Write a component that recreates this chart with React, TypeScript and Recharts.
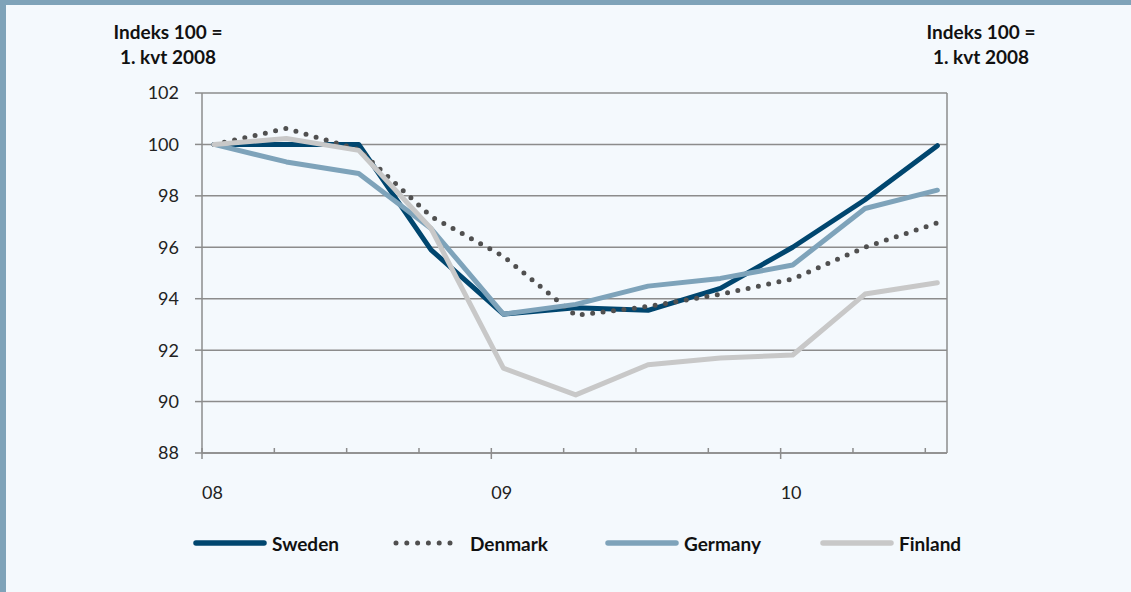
import { LineChart, Line, XAxis, YAxis, CartesianGrid, Legend } from "recharts";

// kvartaler 1. kvt 2008 - 3. kvt 2010
const quarters = ["2008K1", "2008K2", "2008K3", "2008K4", "2009K1", "2009K2", "2009K3", "2009K4", "2010K1", "2010K2", "2010K3"];

const sweden = [100, 100.0, 100.0, 95.9, 93.4, 93.65, 93.55, 94.4, 96.0, 97.85, 99.95];
const denmark = [100, 100.62, 99.8, 97.2, 95.65, 93.35, 93.7, 94.17, 94.77, 96.0, 96.95];
const germany = [100, 99.32, 98.87, 96.73, 93.4, 93.78, 94.49, 94.79, 95.31, 97.51, 98.22];
const finland = [100, 100.23, 99.77, 96.73, 91.3, 90.26, 91.43, 91.69, 91.81, 94.18, 94.62];

const yTicks = [88, 90, 92, 94, 96, 98, 100, 102];
const monthTicks = [0, 3, 6, 9, 12, 15, 18, 21, 24, 27, 30];
const yearLabels: Record<number, string> = { 0: "08", 12: "09", 24: "10" };

const series = [
  { key: "sweden", name: "Sweden", color: "#00466f", dotted: false },
  { key: "denmark", name: "Denmark", color: "#505050", dotted: true },
  { key: "germany", name: "Germany", color: "#7ea3ba", dotted: false },
  { key: "finland", name: "Finland", color: "#c8c8c8", dotted: false },
];

// x er målt i måneder fra jan 2008, punktet ligger midt i første måned av kvartalet
const data = quarters.map((q, i) => ({
  q,
  m: i * 3 + 0.5,
  sweden: sweden[i],
  denmark: denmark[i],
  germany: germany[i],
  finland: finland[i],
}));

const FONT = "Lato, 'Open Sans', sans-serif";
const AXIS = "#8c8c8c";

const XTick = (props: any) => {
  const { x, y, payload } = props;
  const label = yearLabels[payload.value];
  const major = label !== undefined;
  return (
    <g>
      <line x1={x} x2={x} y1={y - 5} y2={major ? y + 6 : y} stroke={AXIS} strokeWidth={1.5} />
      {major && (
        <text x={x} y={y + 46} textAnchor="start" fontSize={18} fill="#222" fontFamily={FONT}>
          {label}
        </text>
      )}
    </g>
  );
};

const renderLegend = () => (
  <div style={{ position: "relative", height: 22, fontFamily: FONT, fontWeight: 700, fontSize: 19, color: "#111" }}>
    {series.map((s, i) => (
      <div key={s.key} style={{ position: "absolute", left: [193, 393, 605, 820][i], top: 0, display: "flex", alignItems: "center", height: 22 }}>
        <svg width={74} height={10} style={{ marginRight: s.dotted ? 3 : 5 }}>
          {s.dotted ? (
            <line x1={3} x2={66} y1={5} y2={5} stroke={s.color} strokeWidth={5} strokeLinecap="round" strokeDasharray="0 10.8" />
          ) : (
            <line x1={3} x2={71} y1={5} y2={5} stroke={s.color} strokeWidth={5.5} strokeLinecap="round" />
          )}
        </svg>
        <span>{s.name}</span>
      </div>
    ))}
  </div>
);

export default function App() {
  const head = { position: "absolute" as const, top: 19, width: 180, textAlign: "center" as const, fontFamily: FONT, fontWeight: 700, fontSize: 19, lineHeight: "25px", color: "#111" };
  return (
    <div style={{ position: "relative", width: 1131, height: 592, background: "#f4f9fd", overflow: "hidden" }}>
      <style>{`body{margin:0}`}</style>
      <div style={{ position: "absolute", left: 0, top: 0, width: 1131, height: 5, background: "#7fa3b9" }} />
      <div style={{ position: "absolute", left: 0, top: 0, width: 6, height: 592, background: "#7fa3b9" }} />
      <div style={{ ...head, left: 78 }}>
        Indeks 100 =<br />1. kvt 2008
      </div>
      <div style={{ ...head, left: 891 }}>
        Indeks 100 =<br />1. kvt 2008
      </div>
      <LineChart width={1131} height={592} data={data} margin={{ top: 93, right: 0, bottom: 79, left: 0 }} style={{ position: "absolute", left: 0, top: 0 }}>
        <CartesianGrid vertical={false} stroke={AXIS} strokeWidth={1.5} yAxisId="left" />
        <XAxis
          dataKey="m"
          type="number"
          domain={[0, 30.9]}
          ticks={monthTicks}
          interval={0}
          tickSize={0}
          tickMargin={0}
          tickLine={false}
          tick={<XTick />}
          axisLine={{ stroke: AXIS, strokeWidth: 1.5 }}
          height={60}
        />
        <YAxis
          yAxisId="left"
          domain={[88, 102]}
          ticks={yTicks}
          interval={0}
          width={202}
          tickSize={7}
          tickMargin={16}
          tick={{ fontSize: 18, fill: "#222", fontFamily: FONT }}
          tickLine={{ stroke: AXIS, strokeWidth: 1.5 }}
          axisLine={{ stroke: AXIS, strokeWidth: 1.5 }}
        />
        <YAxis
          yAxisId="right"
          orientation="right"
          domain={[88, 102]}
          ticks={yTicks}
          interval={0}
          width={184}
          tickSize={7}
          tickMargin={8}
          tick={{ fontSize: 18, fill: "#222", fontFamily: FONT, textAnchor: "start" }}
          tickLine={{ stroke: AXIS, strokeWidth: 1.5 }}
          axisLine={{ stroke: AXIS, strokeWidth: 1.5 }}
        />
        <Legend
          layout="horizontal"
          verticalAlign="middle"
          align="center"
          content={renderLegend}
          wrapperStyle={{ top: 532, left: 0, width: 1131, height: 22 }}
        />
        {series.map((s) => (
          <Line
            key={s.key}
            yAxisId="left"
            type="linear"
            dataKey={s.key}
            name={s.name}
            stroke={s.color}
            strokeWidth={5}
            strokeDasharray={s.dotted ? "0 10.5" : undefined}
            strokeLinecap="round"
            strokeLinejoin="round"
            dot={false}
            activeDot={false}
            isAnimationActive={false}
          />
        ))}
      </LineChart>
    </div>
  );
}
